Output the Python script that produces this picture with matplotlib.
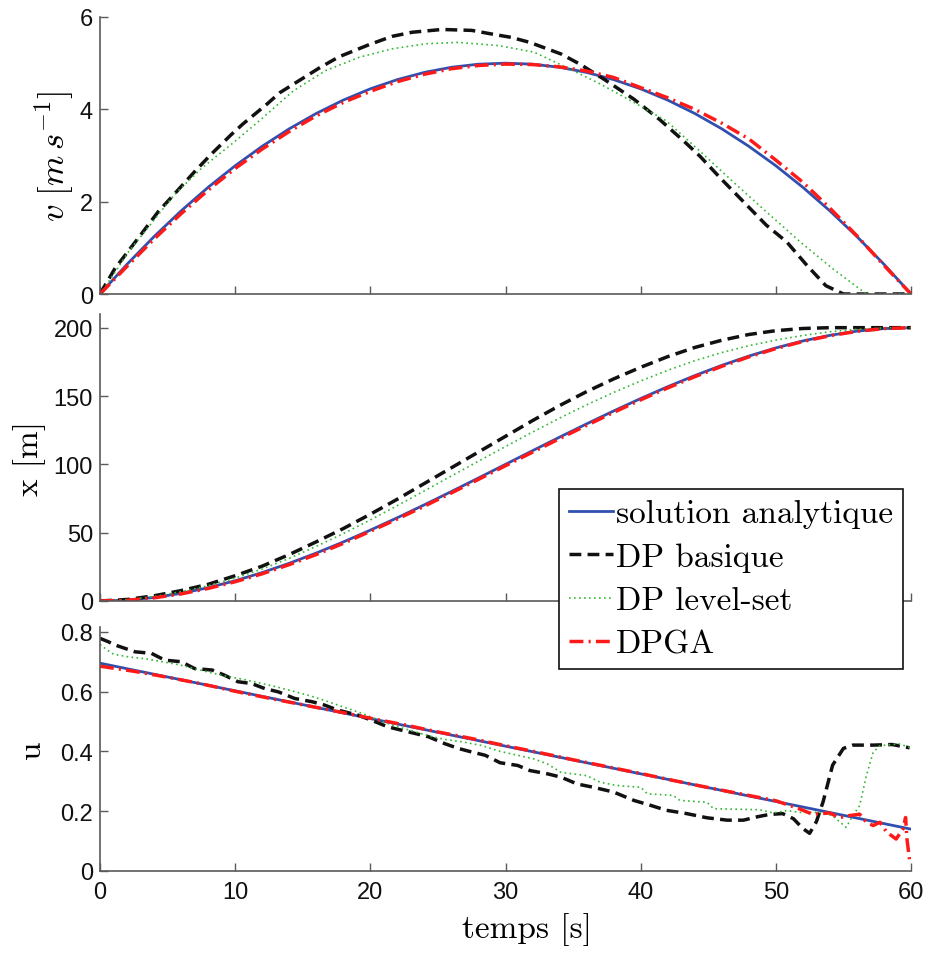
import matplotlib
matplotlib.use("Agg")
import matplotlib.pyplot as plt

# ---- data ----
# time grid (s) used for the smooth curves
t_grid = [0, 2, 4, 6, 8, 10, 12, 14, 16, 18, 20, 22, 24, 26, 28, 30,
          32, 34, 36, 38, 40, 42, 44, 46, 48, 50, 52, 54, 56, 58, 60]

# speed v [m/s]
v_analytic = [0, 0.644, 1.244, 1.8, 2.311, 2.778, 3.2, 3.578, 3.911, 4.2, 4.444,
              4.644, 4.8, 4.911, 4.978, 5.0, 4.978, 4.911, 4.8, 4.644, 4.444,
              4.2, 3.911, 3.578, 3.2, 2.778, 2.311, 1.8, 1.244, 0.644, 0]
v_dpga = [0, 0.6, 1.19, 1.74, 2.25, 2.72, 3.14, 3.52, 3.86, 4.15, 4.39,
          4.6, 4.76, 4.88, 4.95, 4.98, 4.97, 4.92, 4.83, 4.69, 4.47,
          4.25, 4.0, 3.7, 3.36, 2.9, 2.42, 1.86, 1.26, 0.62, 0]
t_v_basic = [0, 1.1, 2.8, 4.3, 5.3, 7.0, 8.2, 9.7, 10.6, 12.3, 13.3, 14.5, 16.3,
             17.7, 19.9, 21.6, 23.1, 25.3, 27.5, 29.2, 30.4, 31.8, 34.1, 35.5,
             37.3, 39.5, 41.4, 43.2, 44.4, 45.9, 47.6, 49.3, 50.8, 52.3, 53.7,
             55.0, 60]
v_basic = [0, 0.55, 1.2, 1.78, 2.1, 2.65, 3.02, 3.45, 3.69, 4.1, 4.36, 4.58, 4.91,
           5.14, 5.4, 5.58, 5.67, 5.73, 5.71, 5.62, 5.56, 5.45, 5.2, 4.98,
           4.65, 4.22, 3.78, 3.31, 2.98, 2.51, 2.0, 1.49, 1.13, 0.62, 0.18,
           0, 0]
t_v_level = [0, 0.6, 2.1, 3.5, 5.5, 7.5, 10, 11.9, 14.3, 16.7, 19.2, 21.6, 24.1,
             26.5, 29.5, 32.1, 34.5, 37.0, 39.5, 41.9, 44.4, 46.8, 49.3, 51.8,
             54.2, 56.2, 56.7, 60]
v_level = [0, 0.25, 0.91, 1.42, 2.15, 2.72, 3.31, 3.78, 4.4, 4.84, 5.13, 5.31, 5.42,
           5.45, 5.38, 5.24, 4.91, 4.55, 4.15, 3.75, 3.09, 2.44, 1.78, 1.13,
           0.55, 0.11, 0, 0]

# position x [m]
x_analytic = [0, 0.652, 2.548, 5.6, 9.719, 14.815, 20.8, 27.585, 35.081, 43.2,
              51.852, 60.948, 70.4, 80.119, 90.015, 100, 109.985, 119.881,
              129.6, 139.052, 148.148, 156.8, 164.919, 172.415, 179.2, 185.185,
              190.281, 194.4, 197.452, 199.348, 200]
x_basic = [0, 1.1, 3.8, 7.6, 12.2, 18.5, 25.5, 34, 43.3, 53, 63.5, 74.5, 86,
           97.5, 109, 120.5, 132, 143, 153.2, 162.5, 171, 178.8, 185.5, 190.8,
           195, 197.8, 199.4, 200, 200, 200, 200]
x_level = [0, 0.9, 3.3, 6.8, 11.2, 16.8, 23.4, 31.2, 40.0, 49.3, 59.3, 69.8, 80.6,
           91.5, 102.3, 113, 123.6, 133.8, 143.5, 152.6, 161, 168.8, 175.8,
           181.8, 186.8, 190.9, 194.3, 197, 198.8, 199.8, 200]
x_dpga = [0, 0.5, 2.3, 5.2, 9.2, 14.1, 19.9, 26.6, 34.0, 42.2, 51.0, 60.0, 69.4,
          79.1, 89.0, 99.0, 108.9, 118.8, 128.5, 138.0, 147.2, 155.9, 164.1,
          171.7, 178.6, 184.7, 189.9, 194.1, 197.3, 199.3, 200]

# command u
t_u_analytic = [0, 60]
u_analytic = [0.695, 0.14]
t_u_basic = [0, 0.6, 1.1, 2.6, 3.8, 4.8, 6.0, 7.0, 8.3, 9.2, 10.2, 11.2, 12.2,
             13.2, 14.4, 15.7, 16.6, 17.6, 19.1, 20.1, 21.3, 22.3, 23.3, 24.3,
             25.5, 26.5, 27.5, 28.5, 29.6, 30.9, 31.8, 33.1, 34.1, 35.3, 36.5,
             38.0, 39.5, 40.7, 41.9, 43.4, 44.9, 46.4, 47.6, 48.6, 49.5, 50.5,
             51.3, 52.0, 52.5, 53.0, 53.5, 54.2, 55.0, 55.7, 57.2, 58.6, 59.9]
u_basic = [0.778, 0.767, 0.756, 0.733, 0.728, 0.705, 0.70, 0.677, 0.672, 0.655,
           0.633, 0.627, 0.61, 0.599, 0.577, 0.566, 0.555, 0.538, 0.521, 0.504,
           0.482, 0.471, 0.46, 0.449, 0.426, 0.41, 0.398, 0.387, 0.362, 0.353,
           0.336, 0.325, 0.314, 0.291, 0.28, 0.264, 0.236, 0.22, 0.203, 0.192,
           0.178, 0.17, 0.17, 0.181, 0.189, 0.192, 0.175, 0.142, 0.126, 0.165,
           0.232, 0.354, 0.41, 0.421, 0.421, 0.423, 0.412]
t_u_level = [0, 0.5, 1.0, 2.1, 3.3, 4.6, 5.8, 7.0, 8.3, 9.5, 10.7, 12.0, 13.2,
             14.4, 15.6, 16.9, 18.1, 19.4, 20.6, 21.8, 23.0, 24.3, 25.5, 26.8,
             28.2, 29.6, 32.1, 33.1, 34.1, 36.0, 37.0, 38.2, 40.0, 40.5, 42.4,
             42.9, 44.9, 45.4, 48.8, 49.8, 50.8, 51.8, 53.2, 54.2, 55.2, 55.7,
             56.2, 56.7, 57.2, 57.7, 59.1, 59.9]
u_level = [0.758, 0.74, 0.725, 0.716, 0.71, 0.70, 0.69, 0.677, 0.662, 0.65, 0.64,
           0.627, 0.614, 0.6, 0.585, 0.566, 0.547, 0.527, 0.505, 0.485, 0.47,
           0.452, 0.44, 0.432, 0.42, 0.40, 0.375, 0.358, 0.33, 0.319, 0.297,
           0.286, 0.28, 0.258, 0.253, 0.236, 0.23, 0.208, 0.205, 0.194, 0.202,
           0.196, 0.196, 0.185, 0.146, 0.185, 0.219, 0.319, 0.397, 0.419,
           0.425, 0.414]
t_u_dpga = [0, 2.5, 5, 7.5, 10, 12.5, 15, 17.5, 20, 22.5, 25, 27.5, 30, 32.5, 35,
            37.5, 40, 42.5, 45, 47.5, 50, 51.8, 52.7, 54.0, 54.7, 55.4, 56.2,
            56.7, 57.2, 57.7, 58.2, 58.9, 59.4, 59.6, 59.7, 59.9]
u_dpga = [0.685, 0.668, 0.648, 0.626, 0.601, 0.578, 0.556, 0.534, 0.511, 0.489,
          0.465, 0.443, 0.419, 0.396, 0.372, 0.349, 0.326, 0.302, 0.279, 0.257,
          0.235, 0.207, 0.19, 0.194, 0.178, 0.185, 0.19, 0.163, 0.152, 0.163,
          0.13, 0.107, 0.14, 0.179, 0.107, 0.035]

labels = ["solution analytique", "DP basique", "DP level-set", "DPGA"]

# ---- styles ----
c_blue = "#3050b0"
c_black = "#111111"
c_green = "#33b833"
c_red = "#ff1a1a"
st_blue = dict(color=c_blue, lw=2.0, ls="-")
st_black = dict(color=c_black, lw=2.5, ls=(0, (3.4, 1.8)))
st_green = dict(color=c_green, lw=1.2, ls=(0, (1, 2.0)))
st_red = dict(color=c_red, lw=2.5, ls=(0, (4, 1.5, 0.6, 1.5)))

plt.rcParams["mathtext.fontset"] = "cm"
plt.rcParams["font.family"] = ["Liberation Sans", "DejaVu Sans"]
plt.rcParams["axes.unicode_minus"] = False

W, H = 930, 954
fig = plt.figure(figsize=(W / 100, H / 100), dpi=100)

def px_axes(left, right, top, bottom):
    return fig.add_axes([left / W, 1 - bottom / H, (right - left) / W, (bottom - top) / H])

ax1 = px_axes(100, 911, 18, 295)
ax2 = px_axes(100, 911, 315, 602)
ax3 = px_axes(100, 911, 628, 872)

ax1.plot(t_grid, v_analytic, **st_blue)
ax1.plot(t_v_basic, v_basic, **st_black)
ax1.plot(t_v_level, v_level, **st_green)
ax1.plot(t_grid, v_dpga, **st_red)

h1, = ax2.plot(t_grid, x_analytic, **st_blue)
h2, = ax2.plot(t_grid, x_basic, **st_black)
h3, = ax2.plot(t_grid, x_level, **st_green)
h4, = ax2.plot(t_grid, x_dpga, **st_red)

ax3.plot(t_u_analytic, u_analytic, **st_blue)
ax3.plot(t_u_basic, u_basic, **st_black)
ax3.plot(t_u_level, u_level, **st_green)
ax3.plot(t_u_dpga, u_dpga, **st_red)

ax1.set_ylim(0, 6)
ax1.set_yticks([0, 2, 4, 6])
ax2.set_ylim(0, 210)
ax2.set_yticks([0, 50, 100, 150, 200])
ax3.set_ylim(0, 0.816)
ax3.set_yticks([0, 0.2, 0.4, 0.6, 0.8])
ax3.set_yticklabels(["0", "0.2", "0.4", "0.6", "0.8"])

spine_c = "#5a5a5a"
for ax in (ax1, ax2, ax3):
    ax.set_xlim(0, 60)
    ax.set_xticks(range(0, 61, 10))
    ax.spines["top"].set_visible(False)
    ax.spines["right"].set_visible(False)
    for s in ("left", "bottom"):
        ax.spines[s].set_color(spine_c)
        ax.spines[s].set_linewidth(1.2)
    ax.tick_params(direction="in", length=6, width=1.0, color=spine_c,
                   labelsize=17, labelcolor="#111111")
    ax.tick_params(axis="y", pad=5)
    ax.tick_params(axis="x", pad=7)
    ax.patch.set_alpha(0)
ax1.tick_params(labelbottom=False)
ax2.tick_params(labelbottom=False)

serif = "cmr10"
ax1.set_ylabel(r"$v\ [m\,s^{-1}]$", fontsize=25)
ax1.yaxis.set_label_coords(-0.030, 0.5)
ax2.set_ylabel("x [m]", fontsize=24, family=serif)
ax2.yaxis.set_label_coords(-0.066, 0.5)
ax3.set_ylabel("u", fontsize=24, family=serif)
ax3.yaxis.set_label_coords(-0.066, 0.5)
ax3.set_xlabel("temps [s]", fontsize=24, family=serif)
ax3.xaxis.set_label_coords(0.527, -0.170)

leg = fig.legend([h1, h2, h3, h4], labels, loc="upper right",
                 bbox_to_anchor=(903 / W, 1 - 490 / H),
                 prop={"family": serif, "size": 24},
                 fancybox=False, framealpha=1, edgecolor="#111111",
                 handlelength=1.3, handletextpad=0.1, labelspacing=0.42,
                 borderpad=0.3, borderaxespad=0)
leg.get_frame().set_linewidth(1.2)

fig.savefig("out.png", dpi=100)
